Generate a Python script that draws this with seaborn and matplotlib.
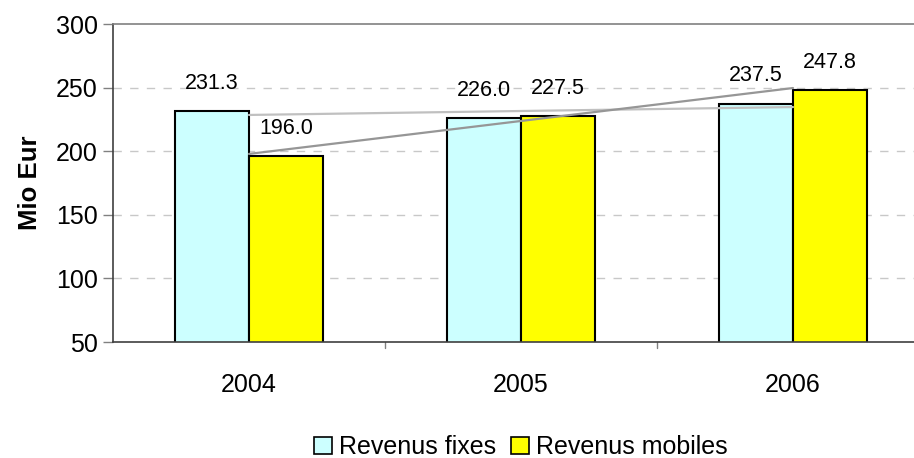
import matplotlib
matplotlib.use("Agg")
import matplotlib.pyplot as plt
import seaborn as sns
import pandas as pd
from matplotlib.patches import Patch

years = ["2004", "2005", "2006"]
series_names = ["Revenus fixes", "Revenus mobiles"]
revenus_fixes = [231.3, 226.0, 237.5]
revenus_mobiles = [196.0, 227.5, 247.8]
y_ticks = [50, 100, 150, 200, 250, 300]

colors = {"Revenus fixes": "#CCFFFF", "Revenus mobiles": "#FFFF00"}

df = pd.DataFrame({
    "Année": years * 2,
    "Série": [series_names[0]] * 3 + [series_names[1]] * 3,
    "Valeur": revenus_fixes + revenus_mobiles,
})

sns.set_style("white")
plt.rcParams["font.family"] = ["Liberation Sans", "DejaVu Sans"]
plt.rcParams["text.color"] = "black"
plt.rcParams["axes.labelcolor"] = "black"
plt.rcParams["xtick.color"] = "black"
plt.rcParams["ytick.color"] = "black"

fig = plt.figure(figsize=(9.14, 4.58), dpi=100)
ax = fig.add_axes([113 / 914, (458 - 342) / 458, 816 / 914, 318 / 458])

sns.barplot(data=df, x="Année", y="Valeur", hue="Série", palette=colors,
            width=0.546, edgecolor="black", linewidth=1.5, ax=ax,
            saturation=1, legend=False)

# linear trend lines (category centres)
xs = [0, 1, 2]
sns.regplot(x=xs, y=revenus_fixes, scatter=False, ci=None, truncate=True,
            ax=ax, line_kws={"color": "#C0C0C0", "linewidth": 1.6})
sns.regplot(x=xs, y=revenus_mobiles, scatter=False, ci=None, truncate=True,
            ax=ax, line_kws={"color": "#969696", "linewidth": 1.6})

# value labels
for cont in ax.containers:
    for bar in cont:
        h = bar.get_height()
        ax.annotate(f"{h:.1f}", (bar.get_x() + bar.get_width() / 2, h),
                    xytext=(0, 20), textcoords="offset points",
                    ha="center", va="center", fontsize=15.5, color="black")

ax.set_ylim(50, 300)
ax.set_xlim(-0.5, 2.5)
ax.set_yticks(y_ticks)
ax.set_yticklabels([str(t) for t in y_ticks], fontsize=18)
ax.set_xticks([0, 1, 2])
ax.set_xticklabels(years, fontsize=18)
ax.tick_params(axis="x", length=0, pad=22)
ax.tick_params(axis="y", length=7, width=1, color="#808080", pad=4, left=True,
               labelcolor="black")
for b in [0.5, 1.5]:
    ax.plot([b, b], [0, -0.02], transform=ax.get_xaxis_transform(),
            color="#808080", lw=1, clip_on=False)

ax.set_xlabel("")
ax.set_ylabel("Mio Eur", fontsize=18.5, fontweight="bold", labelpad=10,
              color="black")

for t in [100, 150, 200, 250]:
    ax.axhline(t, color="#C8C8C8", lw=1, ls=(0, (6, 6)), zorder=0)

ax.spines["right"].set_visible(False)
ax.spines["top"].set_color("#808080")
ax.spines["left"].set_color("#404040")
ax.spines["bottom"].set_color("#404040")
for s in ["top", "left", "bottom"]:
    ax.spines[s].set_linewidth(1.2)

handles = [Patch(facecolor=colors[n], edgecolor="black", linewidth=1.2)
           for n in series_names]
fig.legend(handles, series_names, loc="center", bbox_to_anchor=(521 / 914, 1 - 447 / 458),
           ncol=2, frameon=False, fontsize=18, handlelength=0.7, handleheight=0.7,
           handletextpad=0.3, columnspacing=0.6, labelcolor="black")

fig.savefig("out.png", dpi=100)
